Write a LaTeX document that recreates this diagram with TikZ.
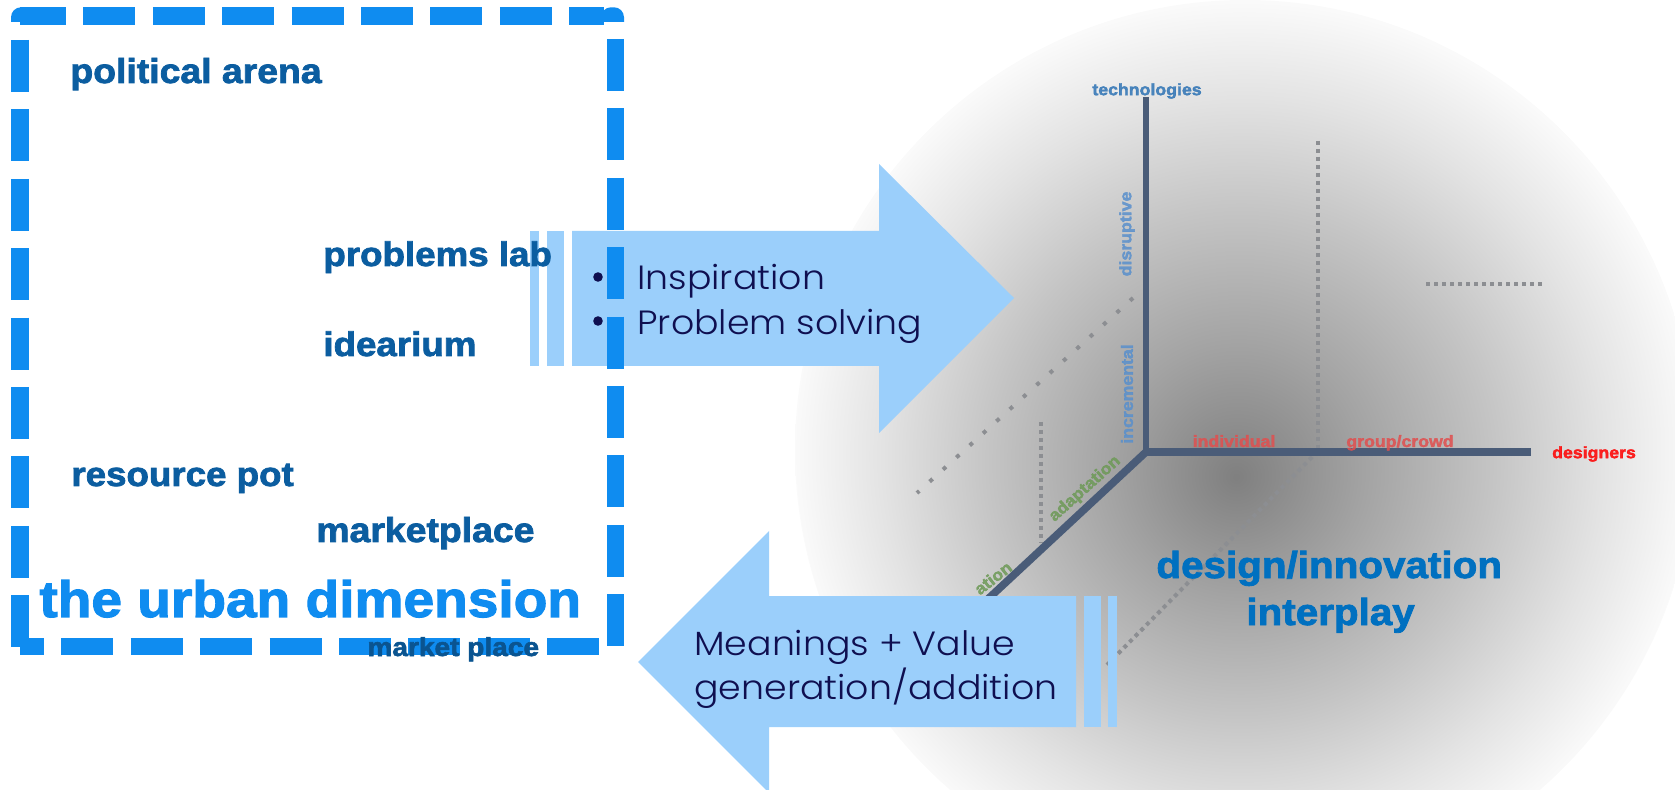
\documentclass[tikz,border=0pt]{standalone}
\usepackage{fontspec}
\setmainfont{Poppins}
\newfontfamily\heavyfont{Liberation Sans}[BoldFeatures={FakeBold=2.2,FakeStretch=1.08}]
\newfontfamily\arrowfont{Poppins Light}[FakeStretch=1.08]
\usepackage{tikz}
\definecolor{boxblue}{HTML}{0F8CF0}
\definecolor{roleblue}{HTML}{0B5DA0}
\definecolor{arrowblue}{HTML}{9BCFFB}
\definecolor{inkblue}{HTML}{0F0F50}
\definecolor{axisgray}{HTML}{4A5C78}
\definecolor{dotgray}{HTML}{8C8E92}
\definecolor{playblue}{HTML}{0070C0}
\definecolor{techblue}{HTML}{2F74B5}
\definecolor{softblue}{HTML}{5A90CC}
\definecolor{softred}{HTML}{E05050}
\definecolor{softgreen}{HTML}{6E9A58}
\pgfdeclareradialshading{spherefade}{\pgfqpoint{-0.5bp}{-1.5bp}}{color(0bp)=(black!50); color(7bp)=(black!36); color(14bp)=(black!23); color(20bp)=(black!11); color(25bp)=(black!2); color(27bp)=(white)}
\tikzset{
  x=0.5pt,y=-0.5pt,
  role/.style={inner sep=0pt,anchor=base west,text=roleblue,font=\heavyfont\bfseries\fontsize{17.3}{17.3}\selectfont},
  blurred/.style={inner sep=0pt,font=\heavyfont\bfseries\fontsize{8.2}{8.2}\selectfont,opacity=0.85},
  boxside/.style={boxblue,line width=8.75pt,dash pattern=on 26pt off 8.7pt},
  dotline/.style={dotgray,line width=2pt,dash pattern=on 2pt off 2pt},
  bigarrow/.style={fill=arrowblue},
  arrowtext/.style={inner sep=0pt,anchor=base west,text=inkblue,font=\arrowfont\fontsize{16.8}{16.8}\selectfont}
}
\begin{document}
\begin{tikzpicture}
\useasboundingbox (0,0) rectangle (1675,790);
\clip (0,0) rectangle (1675,790);
\shade[shading=spherefade] (1245,450) circle [radius=225pt];

\coordinate (o) at (1146,452);
\coordinate (tech) at (1146,97);
\coordinate (des) at (1531,452);
\coordinate (low) at (960,625);

\draw[dotline] (1318,141) -- (1318,452);
\draw[dotline] (1426,284) -- (1544,284);
\draw[dotline,dash pattern=on 2pt off 7pt] (1133,298) -- (917,493);
\draw[dotline] (1041,422) -- (1041,543);
\draw[dotline] (1312,457) -- (1105,667);

\draw[axisgray,line width=2.8pt] (o) -- (tech);
\draw[axisgray,line width=4pt] (o) -- (des);
\draw[axisgray,line width=3.8pt] (o) -- (low);

\node[blurred,text=techblue] (technologies) at (1147,91) {technologies};
\node[blurred,text=softblue,rotate=90] (disruptive) at (1127,234) {disruptive};
\node[blurred,text=softblue,rotate=90] (incremental) at (1127,394) {incremental};
\node[blurred,text=softred,anchor=base] (individual) at (1234,447) {individual};
\node[blurred,text=softred,anchor=base] (group) at (1400,447) {group/crowd};
\node[blurred,text=red] (designers) at (1594,454) {designers};
\node[blurred,text=softgreen,rotate=42] (adaptation) at (1085,489) {adaptation};
\node[blurred,text=softgreen,rotate=38] (ation) at (993,578) {ation};

% arrows
\fill[bigarrow] (572,231) -- (879,231) -- (879,164) -- (1014,298) -- (879,433) -- (879,366) -- (572,366) -- cycle;
\fill[bigarrow] (530,231) rectangle (539,366);
\fill[bigarrow] (547,231) rectangle (564,366);
\fill[bigarrow] (1076,596) -- (769,596) -- (769,531) -- (638,662) -- (769,793) -- (769,727) -- (1076,727) -- cycle;
\fill[bigarrow] (1084,596) rectangle (1101,727);
\fill[bigarrow] (1108,596) rectangle (1117,727);

\fill[inkblue] (598,277) circle [radius=2.4pt];
\fill[inkblue] (598,321) circle [radius=2.4pt];
\node[arrowtext] (inspiration) at (637,290) {Inspiration};
\node[arrowtext] (solving) at (637,335) {Problem solving};
\node[arrowtext] (meanings) at (694,655) {Meanings + Value};
\node[arrowtext] (generation) at (694,699) {generation/addition};

% dashed frame
\draw[boxside,dash phase=3pt] (20,16) -- (604,16);
\draw[boxside] (20,40) -- (20,647);
\draw[boxside] (615.5,39) -- (615.5,647);
\draw[boxside,dash phase=14pt] (20,646.7) -- (600,646.7);
\fill[boxblue] (11,22) [rounded corners=5pt] -- (11,7.3) -- (34,7.3) [sharp corners] -- (34,22) -- cycle;
\fill[boxblue] (624,22) [rounded corners=5pt] -- (624,7.3) -- (601,7.3) [sharp corners] -- (601,22) -- cycle;

\node[role] (political) at (70,83) {political arena};
\node[role,font=\heavyfont\bfseries\fontsize{17}{17}\selectfont] (problems) at (323,266) {problems lab};
\node[role,font=\heavyfont\bfseries\fontsize{17}{17}\selectfont] (idearium) at (323,356) {idearium};
\node[role,font=\heavyfont\bfseries\fontsize{17}{17}\selectfont] (resource) at (71,486) {resource pot};
\node[role] (marketplace) at (316,542) {marketplace};
\node[role,text=boxblue,font=\heavyfont\bfseries\fontsize{25.5}{25.5}\selectfont] (urban) at (39,617) {the urban dimension};
\node[role,text=roleblue!90!black,font=\heavyfont\bfseries\fontsize{13}{13}\selectfont] (market) at (367,656) {market place};
\node[role,text=playblue,font=\heavyfont\bfseries\fontsize{18.7}{18.7}\selectfont] (design) at (1156,578) {design/innovation};
\node[role,text=playblue,font=\heavyfont\bfseries\fontsize{18.7}{18.7}\selectfont] (interplay) at (1246,625) {interplay};
\end{tikzpicture}
\end{document}
